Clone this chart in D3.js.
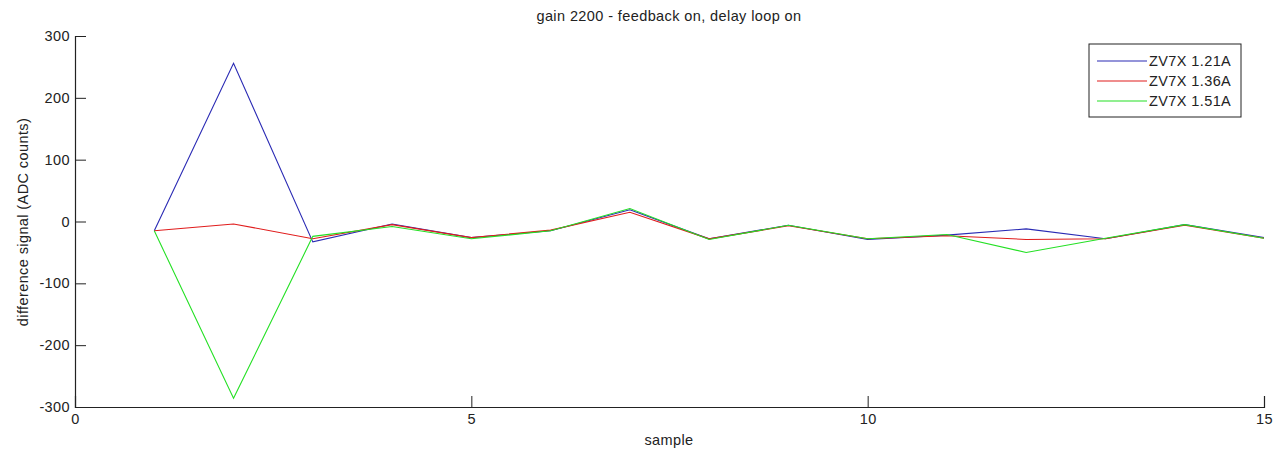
<!DOCTYPE html>
<html>
<head>
<meta charset="utf-8">
<script src="https://cdn.jsdelivr.net/npm/d3@7"></script>
<style>
  html, body { margin: 0; padding: 0; background: #fff; }
  svg { display: block; font-family: "Liberation Sans", Arial, sans-serif; }
</style>
</head>
<body>
<svg id="chart" width="1276" height="451"></svg>
<script>
// Sample index along the horizontal axis
const samples = [1, 2, 3, 4, 5, 6, 7, 8, 9, 10, 11, 12, 13, 14, 15];

// Difference signal (ADC counts) for each operating current
const seriesNames = ["ZV7X 1.21A", "ZV7X 1.36A", "ZV7X 1.51A"];
const current121 = [-15, 256, -33, -4, -26, -15, 19, -28, -6, -29, -22, -12, -28, -5, -26];
const current136 = [-15, -4, -28, -5, -26, -14, 15, -28, -7, -28, -23, -29, -28, -6, -27];
const current151 = [-15, -286, -24, -8, -28, -15, 21, -29, -6, -28, -21, -50, -27, -5, -27];

const xTicks = [0, 5, 10, 15];
const yTicks = [-300, -200, -100, 0, 100, 200, 300];

const seriesColors = ["#2a2ab4", "#e01c1c", "#24e024"];
const seriesValues = [current121, current136, current151];

const svg = d3.select("#chart");
const plotLeft = 75, plotRight = 1264, plotTop = 36, plotBottom = 407;
const textColor = "#222";
const fontSize = 14.5;
const spacing = "0.4px";

const x = d3.scaleLinear().domain([0, 15]).range([plotLeft, plotRight]);
const y = d3.scaleLinear().domain([-300, 300]).range([plotBottom, plotTop]);

// Plain hyphen for negatives
const fmt = d => String(d);

// Axes (left and bottom only, ticks pointing inward)
const xAxis = d3.axisBottom(x).tickValues(xTicks).tickFormat(fmt).tickSize(-11).tickPadding(18);
const yAxis = d3.axisLeft(y).tickValues(yTicks).tickFormat(fmt).tickSize(-11).tickPadding(17);

const gx = svg.append("g").attr("transform", `translate(0,${plotBottom})`).call(xAxis);
const gy = svg.append("g").attr("transform", `translate(${plotLeft},0)`).call(yAxis);

[gx, gy].forEach(g => {
  g.select(".domain").attr("stroke", textColor).attr("stroke-width", 1.2);
  g.selectAll(".tick line").attr("stroke", textColor);
  g.selectAll(".tick text").attr("fill", textColor).attr("font-size", fontSize)
    .attr("letter-spacing", spacing)
    .attr("font-family", "Liberation Sans, Arial, sans-serif");
});
gy.selectAll(".tick text").attr("x", -5);
gx.selectAll(".tick text").attr("y", 7);

// Series lines
const line = d3.line().x((d, i) => x(samples[i])).y(d => y(d));
seriesValues.forEach((vals, k) => {
  svg.append("path")
    .datum(vals)
    .attr("fill", "none")
    .attr("stroke", seriesColors[k])
    .attr("stroke-width", 1.1)
    .attr("d", line);
});

// Title and axis labels
function label(sel) {
  return sel.attr("text-anchor", "middle")
    .attr("font-size", fontSize)
    .attr("letter-spacing", spacing)
    .attr("fill", textColor);
}

svg.append("text").attr("x", 669).attr("y", 21)
  .call(label).text("gain 2200 - feedback on, delay loop on");

svg.append("text").attr("x", 669).attr("y", 445)
  .call(label).text("sample");

svg.append("text").attr("transform", "translate(28,222) rotate(-90)")
  .call(label).text("difference signal (ADC counts)");

// Legend
const legend = svg.append("g");
legend.append("rect")
  .attr("x", 1089).attr("y", 44).attr("width", 152).attr("height", 73)
  .attr("fill", "#fff").attr("stroke", textColor).attr("stroke-width", 1);
seriesNames.forEach((name, k) => {
  const ly = 61 + k * 20;
  legend.append("line")
    .attr("x1", 1097).attr("x2", 1147).attr("y1", ly).attr("y2", ly)
    .attr("stroke", seriesColors[k]).attr("stroke-width", 1.1);
  legend.append("text")
    .attr("x", 1149).attr("y", ly + 5)
    .attr("font-size", fontSize).attr("letter-spacing", spacing)
    .attr("fill", textColor)
    .text(name);
});
</script>
</body>
</html>
